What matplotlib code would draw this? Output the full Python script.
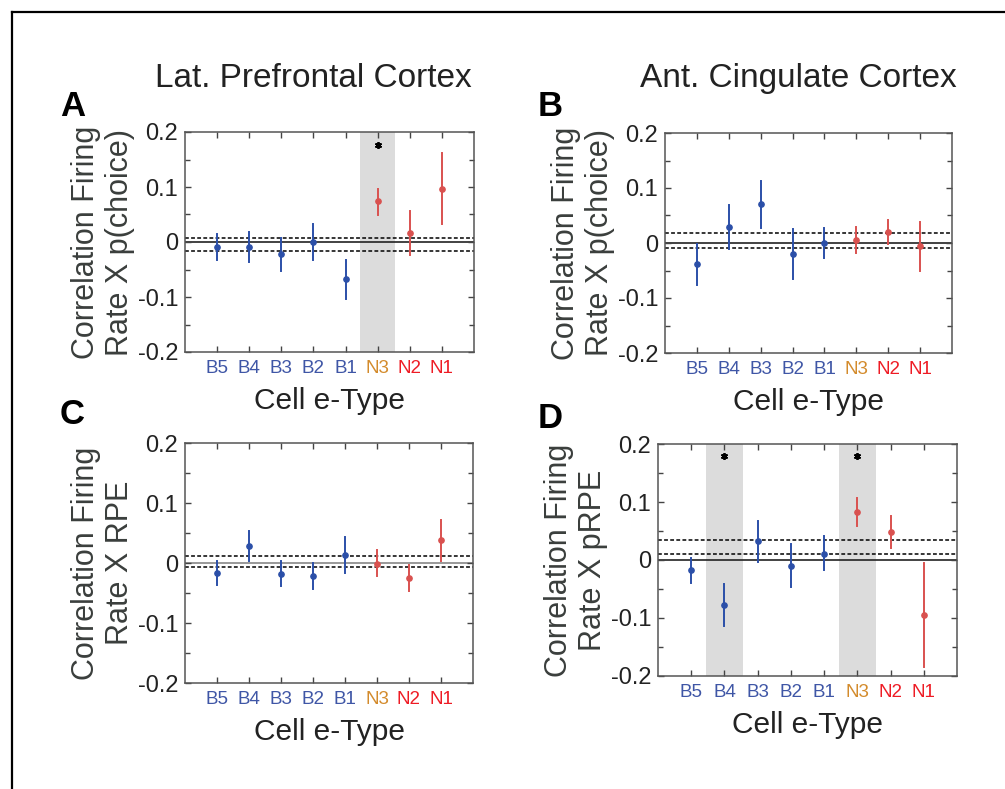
"""Correlation of firing rate with choice / RPE per cell e-type, LPFC vs ACC."""
import matplotlib
matplotlib.use("Agg")
from matplotlib import pyplot as plt
from matplotlib.lines import Line2D
from matplotlib.ticker import MultipleLocator

plt.rcParams["font.family"] = ["Liberation Sans", "DejaVu Sans"]

cell_types = ["B5", "B4", "B3", "B2", "B1", "N3", "N2", "N1"]
label_colors = ["#3F56A6"] * 5 + ["#D38B2C", "#EE1C25", "#EE1C25"]
point_colors = ["#2B4FA8"] * 5 + ["#D9514F"] * 3

# panel A: LPFC, p(choice)
a_mean = [-0.009, -0.009, -0.021, 0.000, -0.068, 0.074, 0.016, 0.096]
a_low = [-0.033, -0.037, -0.052, -0.033, -0.103, 0.050, -0.024, 0.032]
a_high = [0.014, 0.018, 0.008, 0.032, -0.033, 0.097, 0.056, 0.161]
a_thresh = [0.007, -0.016]
a_signif = [5]
a_star = 0.176

# panel B: ACC, p(choice)
b_mean = [-0.039, 0.029, 0.071, -0.020, 0.000, 0.005, 0.020, -0.006]
b_low = [-0.076, -0.011, 0.028, -0.065, -0.028, -0.018, -0.002, -0.050]
b_high = [-0.001, 0.070, 0.113, 0.026, 0.027, 0.029, 0.042, 0.038]
b_thresh = [0.019, -0.009]
b_signif = []
b_star = 0.176

# panel C: LPFC, RPE
c_mean = [-0.017, 0.029, -0.018, -0.022, 0.014, -0.001, -0.025, 0.038]
c_low = [-0.037, 0.004, -0.039, -0.043, -0.016, -0.022, -0.046, 0.004]
c_high = [0.004, 0.054, 0.004, 0.000, 0.044, 0.021, -0.004, 0.071]
c_thresh = [0.012, -0.006]
c_signif = []
c_star = 0.176

# panel D: ACC, pRPE
d_mean = [-0.017, -0.077, 0.032, -0.010, 0.011, 0.083, 0.048, -0.094]
d_low = [-0.039, -0.113, -0.004, -0.047, -0.018, 0.059, 0.021, -0.184]
d_high = [0.004, -0.041, 0.068, 0.027, 0.041, 0.107, 0.076, -0.005]
d_thresh = [0.034, 0.010]
d_signif = [1, 5]
d_star = 0.179

W, H = 1005, 789


def px_axes(fig, left, top, right, bottom):
    """Add axes given pixel edges (origin top-left)."""
    return fig.add_axes([left / W, 1 - bottom / H, (right - left) / W, (bottom - top) / H])


def draw_panel(ax, mean, low, high, thresh, signif, star_y, ylabel, zero_color="#222222"):
    x = list(range(1, len(cell_types) + 1))
    for i in signif:
        ax.axvspan(x[i] - 0.55, x[i] + 0.55, color="#DCDCDC", lw=0, zorder=0)
        ax.plot(x[i], star_y, marker=(6, 2, 0), ms=5, mew=1.3, color="black", zorder=5)
    ax.axhline(0, color=zero_color, lw=1.2, zorder=1)
    for t in thresh:
        ax.axhline(t, color="black", lw=1.1, ls=(0, (2.5, 1.5)), zorder=1)
    for xi, m, lo, hi, c in zip(x, mean, low, high, point_colors):
        ax.plot([xi, xi], [lo, hi], color=c, lw=1.4, zorder=3)
        ax.plot(xi, m, "o", ms=3.8, color=c, zorder=4)

    ax.set_xlim(0, 9)
    ax.set_ylim(-0.2, 0.2)
    ax.set_xticks(x)
    ax.set_xticklabels(cell_types, fontsize=13.5)
    for lab, c in zip(ax.get_xticklabels(), label_colors):
        lab.set_color(c)
    ax.yaxis.set_major_locator(MultipleLocator(0.1))
    ax.yaxis.set_minor_locator(MultipleLocator(0.05))
    ax.set_yticks([-0.2, -0.1, 0, 0.1, 0.2])
    ax.set_yticklabels(["-0.2", "-0.1", "0", "0.1", "0.2"], fontsize=17, color="#222222")
    ax.tick_params(which="both", direction="in", top=True, right=True, color="#444444")
    ax.tick_params(which="major", length=4.5, width=1)
    ax.tick_params(which="minor", length=3.5, width=1)
    ax.tick_params(axis="x", pad=6)
    ax.tick_params(axis="y", pad=5)
    for s in ax.spines.values():
        s.set_color("#555555")
        s.set_linewidth(1.1)
    ax.set_ylabel(ylabel, fontsize=22, color="#3a3e3c", labelpad=2, linespacing=1.15)
    ax.set_xlabel("Cell e-Type", fontsize=21.5, color="#222222", labelpad=7)


fig = plt.figure(figsize=(W / 100, H / 100), dpi=100)

ax_a = px_axes(fig, 185, 132, 474, 352)
ax_b = px_axes(fig, 665, 133, 952, 353)
ax_c = px_axes(fig, 185, 443, 473, 683)
ax_d = px_axes(fig, 658, 444, 957, 676)

draw_panel(ax_a, a_mean, a_low, a_high, a_thresh, a_signif, a_star,
           "Correlation Firing\nRate X p(choice)")
draw_panel(ax_b, b_mean, b_low, b_high, b_thresh, b_signif, b_star,
           "Correlation Firing\nRate X p(choice)")
draw_panel(ax_c, c_mean, c_low, c_high, c_thresh, c_signif, c_star,
           "Correlation Firing\nRate X RPE", zero_color="#888888")
draw_panel(ax_d, d_mean, d_low, d_high, d_thresh, d_signif, d_star,
           "Correlation Firing\nRate X pRPE")

fig.text(313 / W, 1 - 87 / H, "Lat. Prefrontal Cortex", fontsize=24, ha="center",
         va="baseline", color="#222222")
fig.text(798 / W, 1 - 87 / H, "Ant. Cingulate Cortex", fontsize=24, ha="center",
         va="baseline", color="#222222")
for lab, (lx, ly) in zip("ABCD", [(60, 116), (538, 116), (60, 424), (538, 428)]):
    fig.text(lx / W, 1 - ly / H, lab, fontsize=25, fontweight="bold", va="baseline")

# frame lines along top and left edge
fig.add_artist(Line2D([11.5 / W, 11.5 / W], [0, 1 - 11.5 / H], color="black", lw=1.6))
fig.add_artist(Line2D([11.5 / W, 1004 / W], [1 - 11.5 / H, 1 - 11.5 / H], color="black", lw=1.6))

fig.savefig("out.png", dpi=100)
